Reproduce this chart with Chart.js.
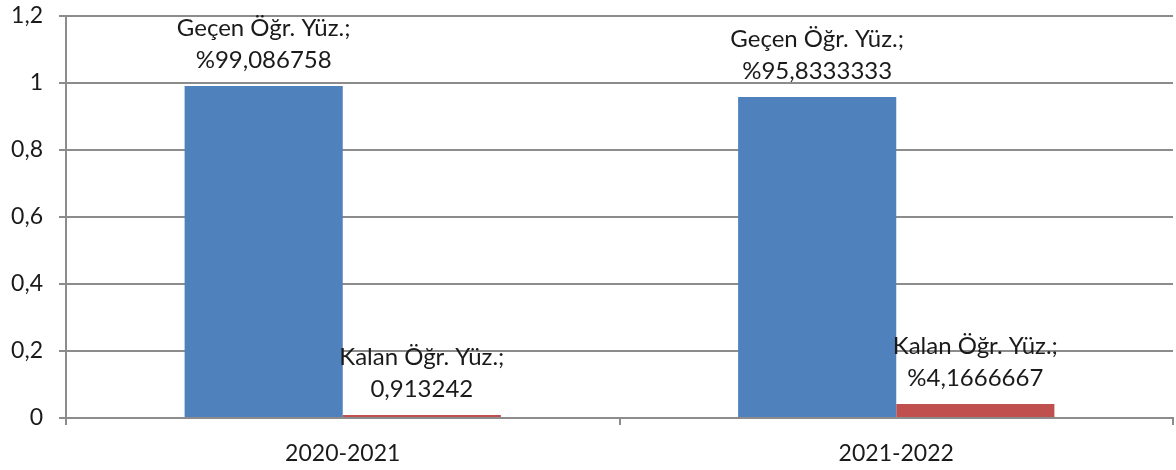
<!DOCTYPE html>
<html>
<head>
<meta charset="utf-8">
<script src="https://cdn.jsdelivr.net/npm/chart.js@4.4.0/dist/chart.umd.min.js"></script>
<style>
  html, body { margin: 0; padding: 0; background: #fff; }
  #wrap { width: 1176px; height: 470px; }
</style>
</head>
<body>
<div id="wrap"><canvas id="chart" width="1176" height="470"></canvas></div>
<script>
// Yıllara göre geçen / kalan öğrenci oranları
const years = ['2020-2021', '2021-2022'];
const gecenValues = [0.99086758, 0.958333333];
const kalanValues = [0.00913242, 0.041666667];
const gecenLabels = ['%99,086758', '%95,8333333'];
const kalanLabels = ['0,913242', '%4,1666667'];
const seriesNames = ['Geçen Öğr. Yüz.;', 'Kalan Öğr. Yüz.;'];
const yTicks = [0, 0.2, 0.4, 0.6, 0.8, 1, 1.2];

const FONT = 'Lato, "Open Sans", sans-serif';
const GRID = '#8c8c8c';
const TEXT = '#1a1a1a';

// Çubukların üstüne iki satırlık etiket yazar
const barLabels = {
    id: 'barLabels',
    afterDatasetsDraw(chart) {
        const ctx = chart.ctx;
        const texts = [gecenLabels, kalanLabels];
        ctx.save();
        ctx.font = '24px ' + FONT;
        ctx.fillStyle = TEXT;
        ctx.textAlign = 'center';
        ctx.textBaseline = 'alphabetic';
        chart.data.datasets.forEach((ds, i) => {
            chart.getDatasetMeta(i).data.forEach((bar, j) => {
                ctx.fillText(seriesNames[i], bar.x, bar.y - 50);
                ctx.fillText(texts[i][j], bar.x, bar.y - 18);
            });
        });
        ctx.restore();
    }
};

new Chart(document.getElementById('chart'), {
    type: 'bar',
    data: {
        labels: years,
        datasets: [
            { label: seriesNames[0], data: gecenValues, backgroundColor: '#4f81bd' },
            { label: seriesNames[1], data: kalanValues, backgroundColor: '#c0504d' }
        ]
    },
    options: {
        responsive: false,
        animation: false,
        layout: { padding: { top: 16, right: 3, left: 0, bottom: 0 } },
        plugins: { legend: { display: false }, tooltip: { enabled: false } },
        datasets: { bar: { barPercentage: 1, categoryPercentage: 2 / 3.5 } },
        scales: {
            x: {
                grid: { offset: true, drawOnChartArea: false, drawTicks: true, tickLength: 7, color: GRID, lineWidth: 2 },
                border: { color: GRID, width: 2 },
                ticks: { font: { family: FONT, size: 23 }, color: TEXT, padding: 15 },
                afterFit(axis) { axis.height = 52; }
            },
            y: {
                min: 0,
                max: 1.2,
                afterBuildTicks(axis) { axis.ticks = yTicks.map(v => ({ value: v })); },
                grid: { color: GRID, lineWidth: 2, tickLength: 7 },
                border: { color: GRID, width: 2 },
                ticks: {
                    font: { family: FONT, size: 23 },
                    color: TEXT,
                    padding: 16,
                    callback: v => String(v).replace('.', ',')
                },
                afterFit(axis) {
                    axis.width = 66;
                    axis.paddingTop = 0;
                    axis.paddingBottom = 0;
                }
            }
        }
    },
    plugins: [barLabels]
});
</script>
</body>
</html>
